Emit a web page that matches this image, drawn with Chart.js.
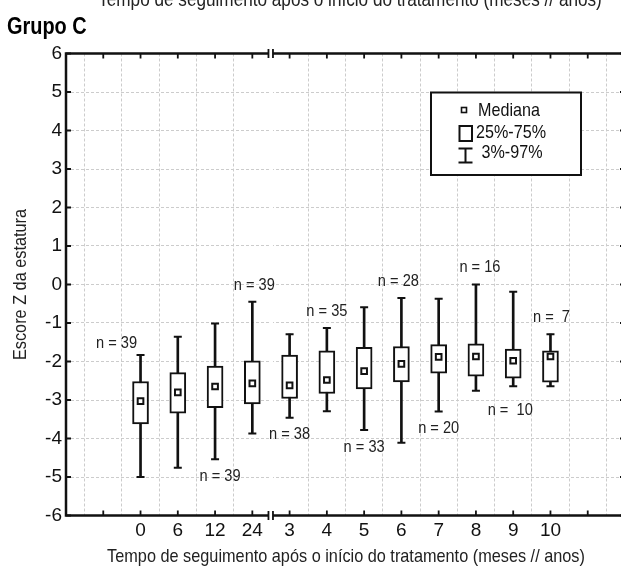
<!DOCTYPE html>
<html><head><meta charset="utf-8">
<script src="https://cdn.jsdelivr.net/npm/chart.js@4.4.1/dist/chart.umd.min.js"></script>
<style>html,body{margin:0;padding:0;background:#fff;overflow:hidden}#wrap{width:621px;height:572px;position:relative;overflow:hidden}</style>
</head><body><div id="wrap"><canvas id="c" width="631" height="572"></canvas></div>
<script>
const FONT = '"Liberation Sans", Arial, sans-serif';
const SX = 0.88;   // horizontal squeeze to imitate the condensed face

// ---- data ----
const categories = ['0', '6', '12', '24', '3', '4', '5', '6', '7', '8', '9', '10'];
const p3     = [-5.00, -4.76, -4.54, -3.87, -3.46, -3.29, -3.78, -4.11, -3.30, -2.76, -2.64, -2.64];
const q1     = [-3.62, -3.34, -3.20, -3.10, -2.96, -2.83, -2.71, -2.53, -2.30, -2.38, -2.43, -2.54];
const median = [-3.03, -2.80, -2.65, -2.57, -2.62, -2.48, -2.25, -2.06, -1.88, -1.87, -1.98, -1.87];
const q3     = [-2.52, -2.29, -2.12, -1.98, -1.83, -1.72, -1.63, -1.61, -1.56, -1.54, -1.68, -1.72];
const p97    = [-1.83, -1.36, -1.01, -0.45, -1.29, -1.13, -0.59, -0.35, -0.37, 0.00, -0.19, -1.29];
const nCount = [39, null, 39, 39, 38, 35, 33, 28, 20, 16, 10, 7];
const legendLabels = ['Mediana', '25%-75%', ' 3%-97%'];
const yTickValues = [-6, -5, -4, -3, -2, -1, 0, 1, 2, 3, 4, 5, 6];
const xTitle = 'Tempo de seguimento após o início do tratamento (meses // anos)';
const yTitle = 'Escore Z da estatura';
const panelTitle = 'Grupo C';

// ---- layout / style ----
const firstSlot = 2;            // slot of first category on the x axis
const slotCount = 15;
const breakSlot = 5.5;          // axis break between months and years
const nSide = ['above', '', 'below', 'above', 'below', 'above', 'below', 'above', 'below', 'above', 'below', 'above'];
const nDx   = [-24, 0, 5, 2, 0, 0, 0, -3, 0, 4, -3, 1];
const nText = n => (n <= 10 ? 'n =  ' : 'n = ') + n;

const slots = categories.map((c, i) => firstSlot + i);
const slotLabel = {};
slots.forEach((s, i) => slotLabel[s] = categories[i]);

const whiskers = slots.map((x, i) => ({x, y: [p3[i], p97[i]]}));
const boxes = slots.map((x, i) => ({x, y: [q1[i], q3[i]]}));
const meds = slots.map((x, i) => ({x, y: median[i]}));
const caps = [];
slots.forEach((x, i) => { caps.push({x, y: p3[i]}); caps.push({x, y: p97[i]}); });

const INK = '#111';

function text(ctx, str, x, y, font, align, baseline, color, rot, sx) {
  ctx.save();
  ctx.translate(x, y);
  if (rot) ctx.rotate(rot);
  ctx.scale(sx || SX, 1);
  ctx.font = font;
  ctx.textAlign = align || 'left';
  ctx.textBaseline = baseline || 'middle';
  ctx.fillStyle = color || INK;
  ctx.fillText(str, 0, 0);
  ctx.restore();
}

const decor = {
  id: 'decor',
  beforeDatasetsDraw(chart) {
    const {ctx, chartArea: a, scales: {x}} = chart;
    const bx = x.getPixelForValue(breakSlot);
    ctx.save();
    ctx.fillStyle = '#fff';
    ctx.fillRect(bx - 2, a.top, 4, a.bottom - a.top);
    ctx.restore();
  },
  afterDraw(chart) {
    const {ctx, chartArea: a, scales: {x, y}} = chart;
    ctx.save();
    // frame
    ctx.strokeStyle = INK;
    ctx.lineWidth = 2.5;
    ctx.strokeRect(a.left, a.top, a.right - a.left, a.bottom - a.top);
    // inward ticks
    ctx.lineWidth = 1.8;
    ctx.beginPath();
    for (let s = 1; s < slotCount; s++) {
      const px = x.getPixelForValue(s);
      ctx.moveTo(px, a.bottom); ctx.lineTo(px, a.bottom - 5);
      ctx.moveTo(px, a.top); ctx.lineTo(px, a.top + 5);
    }
    yTickValues.forEach(v => {
      const py = y.getPixelForValue(v);
      ctx.moveTo(a.left, py); ctx.lineTo(a.left + 5, py);
      ctx.moveTo(a.right, py); ctx.lineTo(a.right - 5, py);
    });
    ctx.stroke();
    // axis break marks
    const bx = x.getPixelForValue(breakSlot);
    [a.top, a.bottom].forEach(py => {
      ctx.fillStyle = '#fff';
      ctx.fillRect(bx - 2, py - 3, 4, 6);
      ctx.lineWidth = 1.8;
      ctx.beginPath();
      ctx.moveTo(bx - 2.5, py - 4.5); ctx.lineTo(bx - 2.5, py + 4.5);
      ctx.moveTo(bx + 2, py - 4.5); ctx.lineTo(bx + 2, py + 4.5);
      ctx.stroke();
    });
    // n labels
    slots.forEach((s, i) => {
      if (nCount[i] == null) return;
      const px = x.getPixelForValue(s) + nDx[i];
      let py;
      if (nSide[i] === 'above') py = y.getPixelForValue(p97[i]) - (i === 0 ? 12 : 17);
      else py = y.getPixelForValue(p3[i]) + (i === 10 ? 24 : 17);
      text(ctx, nText(nCount[i]), px, py, '17px ' + FONT, 'center', 'middle', '#222', 0, 0.86);
    });
    // legend
    const L = {l: 431, t: 92.5, r: 581, b: 175};
    ctx.fillStyle = '#fff';
    ctx.fillRect(L.l, L.t, L.r - L.l, L.b - L.t);
    ctx.strokeStyle = INK;
    ctx.lineWidth = 2;
    ctx.strokeRect(L.l, L.t, L.r - L.l, L.b - L.t);
    ctx.lineWidth = 1.6;
    ctx.strokeRect(461.5, 107.5, 5, 5);
    ctx.lineWidth = 2;
    ctx.strokeRect(459.5, 126, 12.5, 15);
    ctx.beginPath();
    ctx.moveTo(458.5, 148.5); ctx.lineTo(472.5, 148.5);
    ctx.moveTo(465.5, 148.5); ctx.lineTo(465.5, 162.5);
    ctx.moveTo(458.5, 162.5); ctx.lineTo(472.5, 162.5);
    ctx.stroke();
    text(ctx, legendLabels[0], 478, 110.5, '19px ' + FONT, 'left', 'middle', INK, 0, 0.85);
    text(ctx, legendLabels[1], 476, 133, '19px ' + FONT, 'left', 'middle', INK, 0, 0.85);
    text(ctx, legendLabels[2], 477, 153, '19px ' + FONT, 'left', 'middle', INK, 0, 0.85);
    // titles
    text(ctx, panelTitle, 7, 33.5, 'bold 24px ' + FONT, 'left', 'alphabetic', '#000', 0, 0.83);
    text(ctx, xTitle, 350, 6, '19.5px ' + FONT, 'center', 'alphabetic', '#222');
    text(ctx, xTitle, 346, 557, '18.5px ' + FONT, 'center', 'middle', '#222');
    text(ctx, yTitle, 21, (a.top + a.bottom) / 2, '18.5px ' + FONT, 'center', 'middle', '#222', -Math.PI / 2);
    ctx.restore();
  }
};

new Chart(document.getElementById('c'), {
  data: {
    datasets: [
      {type: 'bar', data: whiskers, backgroundColor: INK, borderWidth: 0, barThickness: 2, order: 4, grouped: false},
      {type: 'bar', data: boxes, backgroundColor: '#fff', borderColor: INK, borderWidth: 2, borderSkipped: false, barThickness: 16, order: 3, grouped: false},
      {type: 'line', data: caps, showLine: false, pointStyle: 'line', pointRadius: 4, pointBorderWidth: 2, pointBorderColor: INK, order: 2},
      {type: 'line', data: meds, showLine: false, pointStyle: 'rect', pointRadius: 4, pointBorderWidth: 2, pointBorderColor: INK, pointBackgroundColor: '#fff', order: 1}
    ]
  },
  options: {
    responsive: false,
    animation: false,
    events: [],
    layout: {padding: {top: 53.5, right: 1, left: 0, bottom: 0}},
    plugins: {legend: {display: false}, tooltip: {enabled: false}},
    scales: {
      x: {
        type: 'linear', min: 0, max: slotCount, offset: false,
        afterFit: s => { s.height = 56.5; },
        afterBuildTicks: s => { s.ticks = Array.from({length: slotCount + 1}, (_, k) => ({value: k})); },
        ticks: {autoSkip: false, maxRotation: 0, padding: 4, color: INK, font: {family: FONT, size: 19},
                callback: v => slotLabel[v] !== undefined ? slotLabel[v] : ''},
        grid: {color: '#cccccc', lineWidth: 1, drawTicks: false},
        border: {display: false, dash: [3, 2]}
      },
      y: {
        type: 'linear', min: -6, max: 6,
        afterFit: s => { s.width = 66; },
        afterBuildTicks: s => { s.ticks = yTickValues.map(v => ({value: v})); },
        ticks: {padding: 4, color: INK, font: {family: FONT, size: 19}},
        grid: {color: '#cccccc', lineWidth: 1, drawTicks: false},
        border: {display: false, dash: [3, 2]}
      }
    }
  },
  plugins: [decor]
});
</script></body></html>
